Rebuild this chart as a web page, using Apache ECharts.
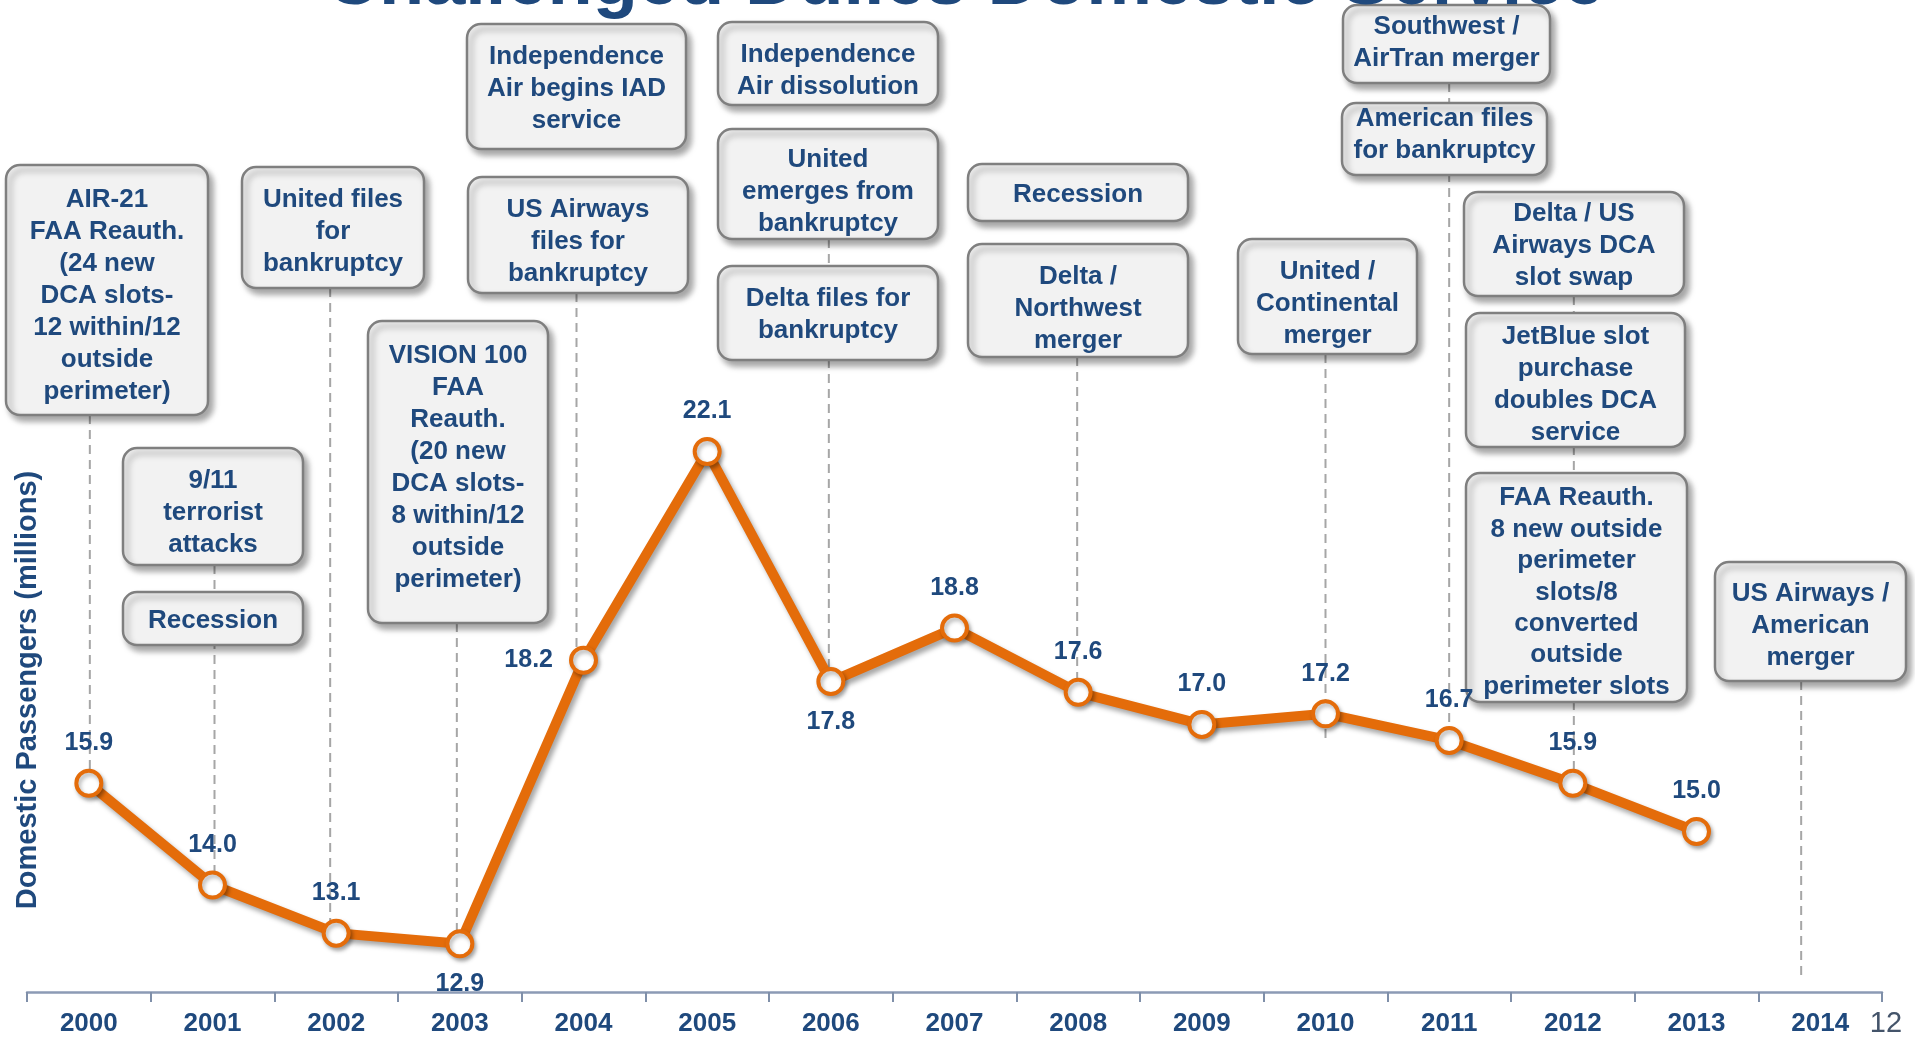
<!DOCTYPE html>
<html>
<head>
    <meta charset="UTF-8">
    <title>Challenged Dulles Domestic Service</title>
    <script src="https://cdn.jsdelivr.net/npm/echarts@6/dist/echarts.min.js"></script>
    <style>
        html, body { margin: 0; padding: 0; background: #fff; }
        #main { width: 1915px; height: 1037px; }
    </style>
</head>
<body>
<div id="main"></div>
<script>
    // years on the x axis
    var years = ['2000', '2001', '2002', '2003', '2004', '2005', '2006', '2007',
                 '2008', '2009', '2010', '2011', '2012', '2013', '2014'];
    // domestic passengers (millions), no value yet for 2014
    var passengers = [15.9, 14.0, 13.1, 12.9, 18.2, 22.1, 17.8, 18.8, 17.6, 17.0, 17.2, 16.7, 15.9, 15.0, '-'];

    // event call-outs
    var eventText = [
        'AIR-21\nFAA Reauth.\n(24 new\nDCA slots-\n12 within/12\noutside\nperimeter)',
        '9/11\nterrorist\nattacks',
        'Recession',
        'United files\nfor\nbankruptcy',
        'Independence\nAir begins IAD\nservice',
        'US Airways\nfiles for\nbankruptcy',
        'VISION 100\nFAA\nReauth.\n(20 new\nDCA slots-\n8 within/12\noutside\nperimeter)',
        'Independence\nAir dissolution',
        'United\nemerges from\nbankruptcy',
        'Delta files for\nbankruptcy',
        'Recession',
        'Delta /\nNorthwest\nmerger',
        'United /\nContinental\nmerger',
        'Southwest /\nAirTran merger',
        'American files\nfor bankruptcy',
        'Delta / US\nAirways DCA\nslot swap',
        'JetBlue slot\npurchase\ndoubles DCA\nservice',
        'FAA Reauth.\n8 new outside\nperimeter\nslots/8\nconverted\noutside\nperimeter slots',
        'US Airways /\nAmerican\nmerger'
    ];
    var connectorYears = ['2000', '2001', '2002', '2003', '2004', '2006', '2008', '2010', '2011', '2012', '2014'];

    // ---- layout (pixels) ----
    var boxLayout = [
        [6, 165, 208, 415], [123, 448, 303, 565], [123, 592, 303, 645], [242, 167, 424, 288],
        [467, 24, 686, 149], [468, 177, 688, 293], [368, 321, 548, 623], [718, 22, 938, 105],
        [718, 129, 938, 239], [718, 266, 938, 360], [968, 164, 1188, 221], [968, 244, 1188, 357],
        [1238, 239, 1417, 354], [1343, 5, 1550, 83], [1342, 103, 1547, 175], [1464, 192, 1684, 296],
        [1466, 313, 1685, 447], [1466, 473, 1687, 702], [1715, 562, 1906, 681]
    ];
    var textDy = [6, 6, 2, 4, 2, 7, -4, 7, 8, 2, 2, 8, 7, -1, -4, 2, 5, 5, 4];
    var textLineHeight = [32, 32, 32, 32, 32, 32, 32, 32, 32, 32, 32, 32, 32, 32, 32, 32, 32, 31.4, 32];
    var connectorTop = [415, 565, 288, 623, 293, 239, 357, 354, 83, 296, 681];
    var connectorDx = [1, 2, -6, -3, -7, -2, -1, 0, 0, 1, -19];
    var connectorExtra = [0, 0, 0, 0, 0, 0, 0, 28, 0, 0, 0];
    var labelPos = ['top', 'top', 'top', 'bottom', 'left', 'top', 'bottom', 'top',
                    'top', 'top', 'top', 'top', 'top', 'top', 'top'];

    var blue = '#1F497D';
    var orange = '#E46C0A';
    var font = '"Liberation Sans", Arial, sans-serif';

    var myChart = echarts.init(document.getElementById('main'));

    var seriesData = passengers.map(function (v, i) {
        return {
            value: v,
            label: { position: labelPos[i], distance: labelPos[i] === 'left' ? 16 : 13 }
        };
    });

    var option = {
        animation: false,
        grid: { left: 27, right: 33, top: 2, bottom: 45 },
        xAxis: {
            type: 'category',
            data: years,
            boundaryGap: true,
            axisLine: { lineStyle: { color: '#8C9BB5', width: 2.5 } },
            axisTick: { show: true, length: 10, lineStyle: { color: '#7F8FA9', width: 2 } },
            axisLabel: { color: blue, fontWeight: 'bold', fontSize: 26, fontFamily: font, margin: 19 },
            splitLine: { show: false }
        },
        yAxis: {
            type: 'value',
            min: 12,
            max: 30.5,
            show: false,
            splitLine: { show: false }
        },
        series: [{
            type: 'line',
            z: 5,
            data: seriesData,
            symbol: 'circle',
            symbolSize: 25,
            showAllSymbol: true,
            lineStyle: {
                color: orange, width: 10,
                shadowColor: 'rgba(0,0,0,0.35)', shadowBlur: 5, shadowOffsetX: 3, shadowOffsetY: 4
            },
            itemStyle: {
                color: '#fff', borderColor: orange, borderWidth: 4,
                shadowColor: 'rgba(0,0,0,0.3)', shadowBlur: 4, shadowOffsetX: 2, shadowOffsetY: 3
            },
            label: {
                show: true,
                color: blue,
                fontWeight: 'bold',
                fontSize: 25,
                fontFamily: font,
                formatter: function (p) { return typeof p.value === 'number' ? p.value.toFixed(1) : ''; }
            },
            emphasis: { disabled: true }
        }]
    };
    myChart.setOption(option);

    // boxes, connectors and free text after the axes exist
    var graphics = [];
    function toPx(i, v) {
        return myChart.convertToPixel({ xAxisIndex: 0, yAxisIndex: 0 }, [i, v]);
    }

    connectorYears.forEach(function (y, k) {
        var i = years.indexOf(y);
        var base = toPx(i, 12);
        var x = base[0] + connectorDx[k];
        var yEnd = typeof passengers[i] === 'number' ? toPx(i, passengers[i])[1] + connectorExtra[k] : base[1] - 15;
        graphics.push({
            type: 'line', z: 0,
            shape: { x1: x, y1: connectorTop[k], x2: x, y2: yEnd },
            style: { stroke: '#A6A6A6', lineWidth: 2, lineDash: [9, 6] }
        });
    });

    boxLayout.forEach(function (b, k) {
        graphics.push({
            type: 'rect', z: 1,
            shape: { x: b[0], y: b[1], width: b[2] - b[0], height: b[3] - b[1], r: 14 },
            style: {
                fill: '#F2F2F2', stroke: '#7F7F7F', lineWidth: 2.5,
                shadowBlur: 6, shadowOffsetX: 4, shadowOffsetY: 5, shadowColor: 'rgba(0,0,0,0.35)'
            }
        });
        graphics.push({
            type: 'text', z: 2,
            x: (b[0] + b[2]) / 2, y: (b[1] + b[3]) / 2 + textDy[k],
            style: {
                text: eventText[k], fill: blue,
                font: 'bold 26px ' + font, lineHeight: textLineHeight[k],
                align: 'center', verticalAlign: 'middle',
                textAlign: 'center', textVerticalAlign: 'middle'
            }
        });
    });

    // title (mostly above the visible area), axis name, page number
    graphics.push({
        type: 'text', z: 2, x: 965, y: -16,
        style: {
            text: 'Challenged Dulles Domestic Service', fill: blue,
            font: 'bold 74px ' + font,
            align: 'center', verticalAlign: 'middle', textAlign: 'center', textVerticalAlign: 'middle'
        }
    });
    graphics.push({
        type: 'text', z: 2, x: 28, y: 690, rotation: Math.PI / 2,
        style: {
            text: 'Domestic Passengers (millions)', fill: blue,
            font: 'bold 29px ' + font,
            align: 'center', verticalAlign: 'middle', textAlign: 'center', textVerticalAlign: 'middle'
        }
    });
    graphics.push({
        type: 'text', z: 2, x: 1886, y: 1024,
        style: {
            text: '12', fill: '#44546A',
            font: '29px ' + font,
            align: 'center', verticalAlign: 'middle', textAlign: 'center', textVerticalAlign: 'middle'
        }
    });

    myChart.setOption({ graphic: graphics });
</script>
</body>
</html>
